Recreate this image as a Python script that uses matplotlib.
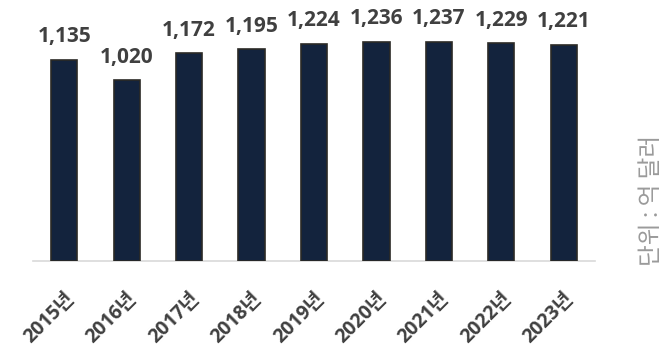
import matplotlib
matplotlib.use("Agg")
import matplotlib.pyplot as plt

plt.rcParams['font.family'] = ['Open Sans', 'Noto Sans CJK KR', 'DejaVu Sans']

years = ["2015년", "2016년", "2017년", "2018년", "2019년", "2020년", "2021년", "2022년", "2023년"]
values = [1135, 1020, 1172, 1195, 1224, 1236, 1237, 1229, 1221]
unit_label = "단위 : 억 달러"

fig = plt.figure(figsize=(6.67, 3.52), dpi=100)
ax = fig.add_axes([33/667, 1 - 261/352, (595-33)/667, 248/352])

x = list(range(len(years)))
ax.bar(x, values, width=0.42, color="#13233d", edgecolor="#2b2a26", linewidth=1.2, zorder=3)
ax.set_xlim(-0.5, len(years) - 0.5)
ax.set_ylim(0, 1400)

for xi, v in zip(x, values):
    ax.text(xi, v + 100, f"{v:,}", ha="center", va="baseline", fontsize=15,
            fontweight="bold", color="#404040", family=['Open Sans', 'DejaVu Sans'])

for s in ["top", "right", "left"]:
    ax.spines[s].set_visible(False)
ax.spines["bottom"].set_color("#d9d9d9")
ax.spines["bottom"].set_linewidth(1.2)
ax.set_yticks([])
ax.set_xticks(x)
ax.set_xticklabels(years, rotation=45, ha="right", rotation_mode="anchor",
                   fontsize=14, fontweight="bold", color="#404040")
ax.tick_params(axis="x", length=0, pad=20)

fig.text(651/667, 1 - 200/352, unit_label, rotation=90, ha="center", va="center",
         fontsize=17, fontweight="medium", color="#9a9a9a", family=['Noto Sans CJK KR'])

fig.savefig("out.png", dpi=100)
